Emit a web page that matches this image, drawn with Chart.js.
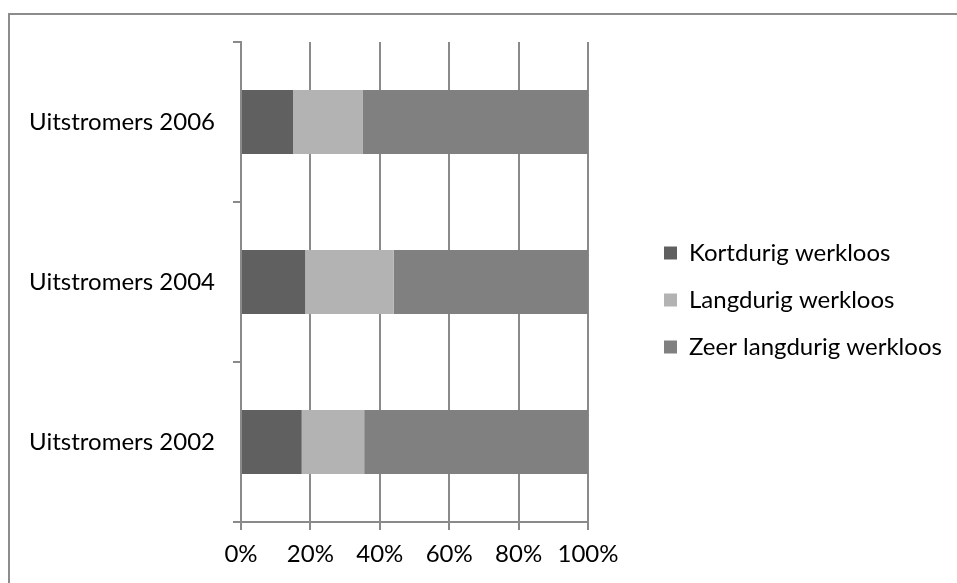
<!DOCTYPE html>
<html>
<head>
<meta charset="utf-8">
<script src="https://cdn.jsdelivr.net/npm/chart.js@4"></script>
<style>
  html, body { margin: 0; padding: 0; background: #fff; overflow: hidden; }
  #wrap { position: relative; width: 957px; height: 583px; }
  #frame { position: absolute; left: 8px; top: 13px; width: 1000px; height: 700px;
           border: 2px solid #8c8c8c; box-sizing: border-box; }
  #wrap canvas { position: absolute; left: 0; top: 0; }
</style>
</head>
<body>
<div id="wrap">
  <div id="frame"></div>
  <canvas id="chart" width="957" height="583"></canvas>
</div>
<script>
'use strict';

const categories = ['Uitstromers 2006', 'Uitstromers 2004', 'Uitstromers 2002'];
const seriesNames = ['Kortdurig werkloos', 'Langdurig werkloos', 'Zeer langdurig werkloos'];
const kortdurig = [15, 18.5, 17.5];
const langdurig = [20, 25.5, 18];
const zeerLangdurig = [65, 56, 64.5];
const xTicks = [0, 20, 40, 60, 80, 100];

const colors = ['#606060', '#b3b3b3', '#808080'];
const gridColor = '#8a8a8a';
const fontFamily = 'Lato, "Open Sans", sans-serif';
const fontSize = 24;

// legend spacing: rows are ~47px apart
const legendPad = 47 - fontSize;
const boxSize = 13;
const legendBoxX = 664;
const plotRight = 588;

// work out right padding so the legend lands where it should
const mctx = document.createElement('canvas').getContext('2d');
mctx.font = fontSize + 'px ' + fontFamily;
const longest = Math.max(...seriesNames.map(s => mctx.measureText(s).width));
const legendLeft = legendBoxX - legendPad;
const legendWidth = legendPad + boxSize + fontSize / 2 + longest + 10;
const rightPad = Math.max(0, 957 - legendLeft - legendWidth);

const ctx = document.getElementById('chart');
new Chart(ctx, {
  type: 'bar',
  data: {
    labels: categories,
    datasets: [
      { label: seriesNames[0], data: kortdurig, backgroundColor: colors[0] },
      { label: seriesNames[1], data: langdurig, backgroundColor: colors[1] },
      { label: seriesNames[2], data: zeerLangdurig, backgroundColor: colors[2] },
    ]
  },
  options: {
    indexAxis: 'y',
    responsive: false,
    animation: false,
    barPercentage: 0.4,
    categoryPercentage: 1,
    layout: {
      padding: { top: 17, bottom: 0, left: 0, right: rightPad }
    },
    font: { family: fontFamily },
    plugins: {
      tooltip: { enabled: false },
      legend: {
        position: 'right',
        align: 'center',
        maxWidth: 500,
        labels: {
          boxWidth: boxSize,
          boxHeight: boxSize,
          padding: legendPad,
          color: '#000',
          font: { family: fontFamily, size: fontSize }
        }
      }
    },
    scales: {
      x: {
        stacked: true,
        min: 0,
        max: 100,
        afterBuildTicks: (scale) => {
          scale.ticks = xTicks.map(v => ({ value: v }));
        },
        afterFit: (scale) => { scale.height = 61; },
        grid: {
          color: gridColor,
          lineWidth: 2,
          tickLength: 8
        },
        border: { display: true, color: gridColor, width: 2 },
        ticks: {
          color: '#000',
          padding: 10,
          font: { family: fontFamily, size: fontSize },
          callback: (v) => v + '%'
        }
      },
      y: {
        stacked: true,
        afterFit: (scale) => { scale.width = 241; },
        grid: {
          offset: true,
          drawOnChartArea: false,
          color: gridColor,
          lineWidth: 2,
          tickLength: 8
        },
        border: { display: true, color: gridColor, width: 2 },
        ticks: {
          color: '#000',
          padding: 18,
          font: { family: fontFamily, size: fontSize }
        }
      },
      // empty spacer scales, only used to push the plot area into place
      gap: {
        type: 'linear',
        position: 'right',
        afterFit: (scale) => { scale.width = legendLeft - plotRight; },
        grid: { display: false },
        border: { display: false },
        ticks: { display: false }
      },
      topGap: {
        type: 'linear',
        position: 'top',
        afterFit: (scale) => { scale.height = 25; },
        grid: { display: false },
        border: { display: false },
        ticks: { display: false }
      }
    }
  }
});
</script>
</body>
</html>
